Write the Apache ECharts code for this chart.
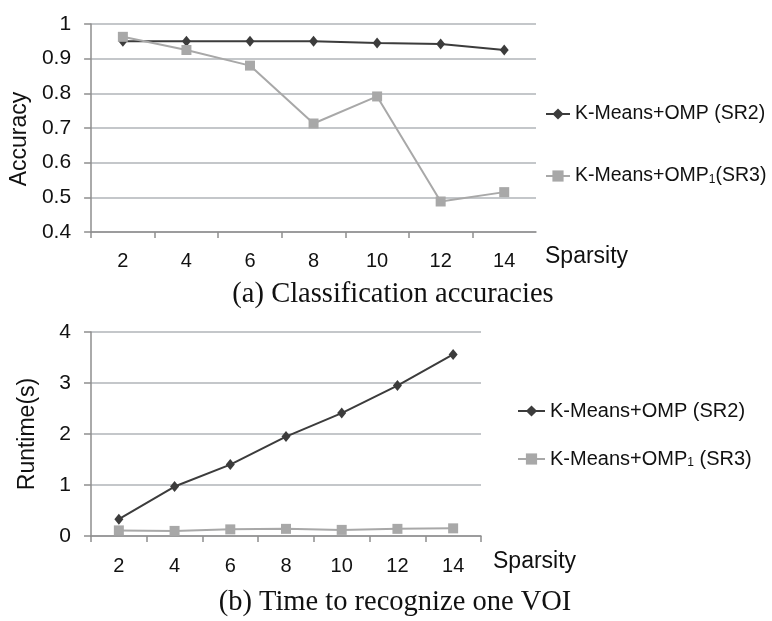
<!DOCTYPE html>
<html>
<head>
<meta charset="utf-8">
<style>
html,body{margin:0;padding:0;background:#fff;}
#c{width:772px;height:621px;}
</style>
<script src="https://cdn.jsdelivr.net/npm/echarts@6/dist/echarts.min.js"></script>
</head>
<body>
<div id="c"></div>
<script>
const categories = ['2', '4', '6', '8', '10', '12', '14'];
const accSR2 = [0.95, 0.95, 0.95, 0.95, 0.945, 0.942, 0.925];
const accSR3 = [0.963, 0.925, 0.88, 0.713, 0.791, 0.488, 0.515];
const timeSR2 = [0.33, 0.97, 1.40, 1.95, 2.41, 2.95, 3.56];
const timeSR3 = [0.11, 0.10, 0.13, 0.14, 0.12, 0.14, 0.15];
const nameSR2 = 'K-Means+OMP (SR2)';
const nameSR3 = 'K-Means+OMP1(SR3)';
const captionA = '(a) Classification accuracies';
const captionB = '(b) Time to recognize one VOI';

const SANS = 'Liberation Sans';
const SERIF = 'Liberation Serif';
const dark = '#3c3c3c';
const light = '#a8a8a8';
const gridColor = '#b0b5b9';
const axisColor = '#8e8e8e';

function xAxis(gridIndex, gap, pad, margin) {
  return {
    type: 'category', gridIndex: gridIndex, data: categories, boundaryGap: true,
    axisLine: {lineStyle: {color: axisColor, width: 1.5}},
    axisTick: {show: true, length: 6, lineStyle: {color: axisColor, width: 1.5}},
    axisLabel: {color: '#111', fontFamily: SANS, fontSize: 20, margin: margin},
    name: 'Sparsity', nameLocation: 'end', nameGap: gap,
    nameTextStyle: {color: '#111', fontFamily: SANS, fontSize: 23, verticalAlign: 'top', padding: [pad, 0, 0, 0]}
  };
}
function yAxis(gridIndex, min, max, interval, name, padR) {
  return {
    type: 'value', gridIndex: gridIndex, min: min, max: max, interval: interval,
    axisLine: {show: true, lineStyle: {color: axisColor, width: 1.5}},
    axisTick: {show: true, length: 7, lineStyle: {color: axisColor, width: 1.5}},
    splitLine: {show: true, lineStyle: {color: gridColor, width: 1.5}},
    axisLabel: {color: '#111', fontFamily: SANS, fontSize: 21, margin: 20,
      formatter: function (v) { return String(+v.toFixed(1)); }},
    name: name, nameLocation: 'middle', nameRotate: 90, nameGap: 52,
    nameTextStyle: {color: '#111', fontFamily: SANS, fontSize: 23, padding: [0, padR, 0, 0]}
  };
}
function lineSeries(name, data, idx, color, symbol, size) {
  return {
    type: 'line', name: name, data: data, xAxisIndex: idx, yAxisIndex: idx,
    symbol: symbol, symbolSize: size, showSymbol: true,
    lineStyle: {color: color, width: 2},
    itemStyle: {color: color},
    emphasis: {disabled: true}, animation: false
  };
}
const legendRich = {
  sub: {fontSize: 12, fontFamily: SANS, color: '#111', verticalAlign: 'bottom', padding: [8, 0, 0, 0]}
};
function legendFmt(space) {
  return function (n) {
    if (n === nameSR3) return 'K-Means+OMP{sub|1}' + space + '(SR3)';
    return n;
  };
}

const chart = echarts.init(document.getElementById('c'), null, {renderer: 'canvas'});
chart.setOption({
  backgroundColor: '#ffffff',
  animation: false,
  grid: [
    {left: 90, top: 24, width: 446, height: 208},
    {left: 91, top: 332, width: 390, height: 204}
  ],
  xAxis: [xAxis(0, 9, 13, 19), xAxis(1, 12, 14, 20)],
  yAxis: [yAxis(0, 0.4, 1, 0.1, 'Accuracy', 22), yAxis(1, 0, 4, 1, 'Runtime(s)', 0)],
  legend: [
    {orient: 'vertical', left: 545, top: 104, padding: 0, itemGap: 42, itemWidth: 24, itemHeight: 14,
      data: [nameSR2, nameSR3], formatter: legendFmt(''), selectedMode: false,
      textStyle: {fontFamily: SANS, fontSize: 19.5, color: '#111', rich: legendRich}},
    {orient: 'vertical', left: 517, top: 401, padding: 0, itemGap: 28, itemWidth: 27, itemHeight: 14,
      data: [nameSR2, nameSR3], formatter: legendFmt(' '), selectedMode: false,
      textStyle: {fontFamily: SANS, fontSize: 20, color: '#111', rich: legendRich}}
  ],
  graphic: [
    {type: 'text', x: 393, y: 295, style: {text: captionA, fontFamily: SERIF, fontSize: 28.5, fill: '#111', align: 'center', verticalAlign: 'middle'}},
    {type: 'text', x: 395, y: 603, style: {text: captionB, fontFamily: SERIF, fontSize: 28.5, fill: '#111', align: 'center', verticalAlign: 'middle'}}
  ],
  series: [
    lineSeries(nameSR2, accSR2, 0, dark, 'diamond', [9, 11]),
    lineSeries(nameSR3, accSR3, 0, light, 'rect', 10),
    lineSeries(nameSR2, timeSR2, 1, dark, 'diamond', [9, 11]),
    lineSeries(nameSR3, timeSR3, 1, light, 'rect', 10)
  ]
});
</script>
</body>
</html>
